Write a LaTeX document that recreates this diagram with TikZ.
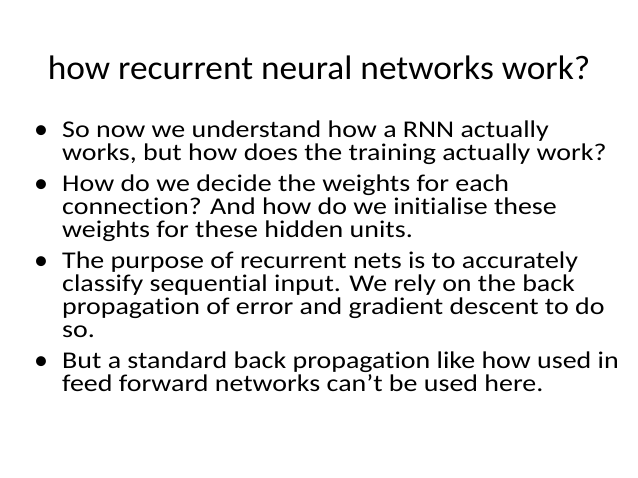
\documentclass[tikz,border=0pt]{standalone}
\usepackage{fontspec}
\setmainfont{Carlito}[Ligatures=NoCommon]
\newfontfamily\bodyf{Carlito}[Ligatures=NoCommon,FakeStretch=1.165]
\newfontfamily\titf{Carlito}[Ligatures=NoCommon,FakeStretch=1.04]
\begin{document}
\begin{tikzpicture}[x=1pt,y=-1pt,
  ln/.style={anchor=base west,inner sep=0pt,font=\bodyf\fontsize{24}{24}\selectfont},
  bl/.style={anchor=base west,inner sep=0pt,font=\fontsize{28}{28}\selectfont}]
\useasboundingbox[fill=white] (0,0) rectangle (638,478);
\node[anchor=base,inner sep=0pt,font=\titf\fontsize{34}{34}\selectfont] (t) at (319,80) {how recurrent neural networks work?};
\foreach \y in {139,193,270,370}{\node[bl] at (34,\y) {\textbullet};}
\node[ln] (l1) at (62,138) {So now we understand how a RNN actually};
\node[ln] (l2) at (62,161) {works, but how does the training actually work?};
\node[ln] (l3) at (62,192) {How do we decide the weights for each};
\node[ln] (l4) at (62,215) {connection? And how do we initialise these};
\node[ln] (l5) at (62,238) {weights for these hidden units.};
\node[ln] (l6) at (62,269) {The purpose of recurrent nets is to accurately};
\node[ln] (l7) at (62,292) {classify sequential input. We rely on the back};
\node[ln] (l8) at (62,315) {propagation of error and gradient descent to do};
\node[ln] (l9) at (62,338) {so.};
\node[ln] (l10) at (62,369) {But a standard back propagation like how used in};
\node[ln] (l11) at (62,392) {feed forward networks can’t be used here.};
\end{tikzpicture}
\end{document}
